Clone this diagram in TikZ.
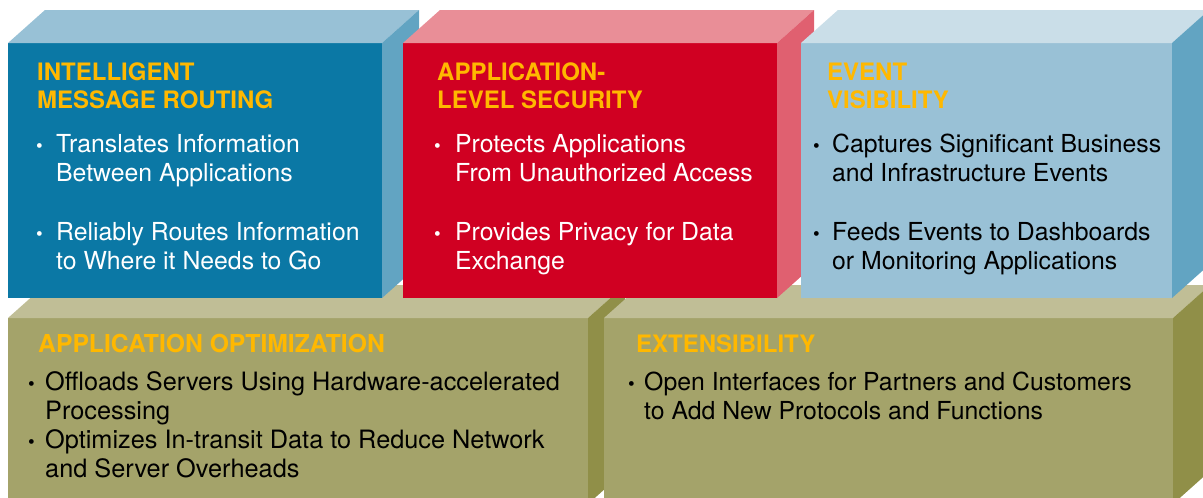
\documentclass[tikz,border=0pt]{standalone}
\usepackage{fontspec}
\setmainfont{TeX Gyre Heros}
\definecolor{bluefront}{RGB}{11,120,165}
\definecolor{bluetop}{RGB}{152,193,214}
\definecolor{blueside}{RGB}{98,164,194}
\definecolor{redfront}{RGB}{208,0,34}
\definecolor{redtop}{RGB}{233,142,151}
\definecolor{redside}{RGB}{224,96,112}
\definecolor{lbfront}{RGB}{153,193,214}
\definecolor{lbtop}{RGB}{202,222,232}
\definecolor{lbside}{RGB}{98,164,194}
\definecolor{grfront}{RGB}{164,163,106}
\definecolor{grtop}{RGB}{192,190,150}
\definecolor{grside}{RGB}{144,143,72}
\definecolor{titleyellow}{RGB}{255,184,0}
\newcommand\drawblock[7]{%
  \fill[#5] (#1,#2) rectangle (#3,#4);
  \fill[#6] (#1,#2) -- (#1+37,#2-33) -- (#3+37,#2-33) -- (#3,#2) -- cycle;
  \fill[#7] (#3,#2) -- (#3+37,#2-33) -- (#3+37,#4-33) -- (#3,#4) -- cycle;
}
\begin{document}
\begin{tikzpicture}[x=1pt,y=-1pt,
  title/.style={anchor=base west, inner sep=0pt, text=titleyellow, font=\fontsize{24}{28}\selectfont\bfseries},
  ltitle/.style={title, font=\fontsize{24.7}{28}\selectfont\bfseries},
  body/.style={anchor=base west, inner sep=0pt, font=\fontsize{24.8}{29}\selectfont},
  lbody/.style={anchor=base west, inner sep=0pt, text=black, font=\fontsize{25.3}{29}\selectfont},
  bul/.style={anchor=base west, inner sep=0pt, font=\fontsize{19}{20}\selectfont},
]
\useasboundingbox (0,0) rectangle (1203,498);
\clip (0,0) rectangle (1203,498);
% lower blocks
\drawblock{8}{318}{588}{504}{grfront}{grtop}{grside}
\drawblock{604}{318}{1173}{504}{grfront}{grtop}{grside}
% upper blocks
\drawblock{8}{43}{382}{298}{bluefront}{bluetop}{blueside}
\drawblock{403}{43}{777}{298}{redfront}{redtop}{redside}
\drawblock{801}{43}{1172}{298}{lbfront}{lbtop}{lbside}

% block 1
\node[title] (t1a) at (37,80) {INTELLIGENT};
\node[title] (t1b) at (37,108) {MESSAGE ROUTING};
\node[bul,text=white] (b1a) at (36,152) {•};
\node[body,text=white] (l1a) at (56,152) {Translates Information};
\node[body,text=white] (l1b) at (56,181) {Between Applications};
\node[bul,text=white] (b1b) at (36,240) {•};
\node[body,text=white] (l1c) at (56,240) {Reliably Routes Information};
\node[body,text=white] (l1d) at (56,269) {to Where it Needs to Go};

% block 2
\node[title] (t2a) at (437,80) {APPLICATION-};
\node[title] (t2b) at (437,108) {LEVEL SECURITY};
\node[bul,text=white] (b2a) at (434,152) {•};
\node[body,text=white] (l2a) at (455,152) {Protects Applications};
\node[body,text=white] (l2b) at (455,181) {From Unauthorized Access};
\node[bul,text=white] (b2b) at (434,240) {•};
\node[body,text=white] (l2c) at (455,240) {Provides Privacy for Data};
\node[body,text=white] (l2d) at (455,269) {Exchange};

% block 3
\node[title] (t3a) at (827,80) {EVENT};
\node[title] (t3b) at (827,108) {VISIBILITY};
\node[bul,text=black] (b3a) at (813,152) {•};
\node[body,text=black] (l3a) at (832,152) {Captures Significant Business};
\node[body,text=black] (l3b) at (832,181) {and Infrastructure Events};
\node[bul,text=black] (b3b) at (813,240) {•};
\node[body,text=black] (l3c) at (832,240) {Feeds Events to Dashboards};
\node[body,text=black] (l3d) at (832,269) {or Monitoring Applications};

% block 4
\node[ltitle] (t4) at (38,352) {APPLICATION OPTIMIZATION};
\node[bul,text=black] (b4a) at (28,390) {•};
\node[lbody] (l4a) at (45,390) {Offloads Servers Using Hardware-accelerated};
\node[lbody] (l4b) at (45,419) {Processing};
\node[bul,text=black] (b4b) at (28,448) {•};
\node[lbody] (l4c) at (45,448) {Optimizes In-transit Data to Reduce Network};
\node[lbody] (l4d) at (45,477) {and Server Overheads};

% block 5
\node[title] (t5) at (636,352) {EXTENSIBILITY};
\node[bul,text=black] (b5a) at (628,390) {•};
\node[body,text=black] (l5a) at (644,390) {Open Interfaces for Partners and Customers};
\node[body,text=black] (l5b) at (644,419) {to Add New Protocols and Functions};
\end{tikzpicture}
\end{document}
